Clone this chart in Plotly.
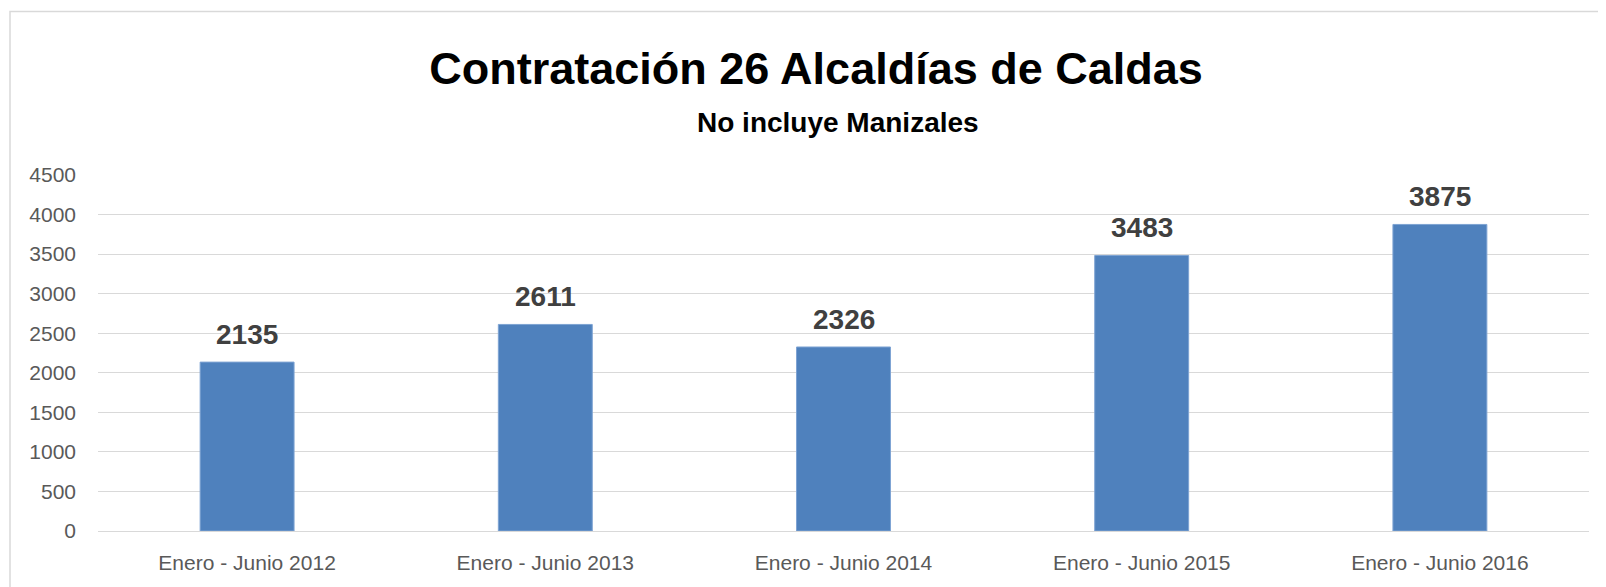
import plotly.graph_objects as go

categories = ["Enero - Junio 2012", "Enero - Junio 2013", "Enero - Junio 2014",
              "Enero - Junio 2015", "Enero - Junio 2016"]
values = [2135, 2611, 2326, 3483, 3875]
y_ticks = [0, 500, 1000, 1500, 2000, 2500, 3000, 3500, 4000, 4500]

OFF = 8  # page body margin
W, H = 1606 - OFF, 587 - OFF
L, T = 98 - OFF, 175 - OFF
R = W - (1589 - OFF)
B = H - (531 - OFF)
pw, ph = W - L - R, H - T - B

FONT = "Liberation Sans, Arial, sans-serif"

fig = go.Figure()
fig.add_trace(go.Bar(
    x=categories, y=values, width=0.315,
    marker=dict(color="#4F81BD", line=dict(color="#7EA3D3", width=1)),
    hoverinfo="x+y",
))

for c, v in zip(categories, values):
    fig.add_annotation(x=c, y=v, text="<b>%d</b>" % v, showarrow=False,
                       yanchor="bottom", yshift=10,
                       font=dict(family=FONT, size=28, color="#404040"),
                       xref="x", yref="y")

fig.add_annotation(text="<b>No incluye Manizales</b>", xref="paper", yref="paper",
                   x=(838 - OFF - L) / pw, y=1 + (T - (122 - OFF)) / ph,
                   xanchor="center", yanchor="middle",
                   showarrow=False, font=dict(family=FONT, size=28, color="#000000"))

fig.add_shape(type="rect", xref="paper", yref="paper",
              x0=(10 - OFF - L) / pw, x1=(1620 - OFF - L) / pw,
              y0=-0.5, y1=1 + (T - (11.5 - OFF)) / ph,
              line=dict(color="#D9D9D9", width=1.5), fillcolor="rgba(0,0,0,0)", layer="below")

fig.update_layout(
    width=W, height=H,
    margin=dict(l=L, r=R, t=T, b=B, autoexpand=False),
    paper_bgcolor="white", plot_bgcolor="white",
    title=dict(text="<b>Contratación 26 Alcaldías de Caldas</b>",
               x=(816 - OFF) / W, xanchor="center", xref="container",
               y=1 - (68 - OFF) / H, yanchor="middle", yref="container",
               font=dict(family=FONT, size=45, color="#000000")),
    showlegend=False,
)
fig.update_yaxes(range=[0, 4500], tickvals=y_ticks, showgrid=True, gridcolor="#D9D9D9",
                 gridwidth=1, zeroline=True, zerolinecolor="#D9D9D9", zerolinewidth=1,
                 tickfont=dict(family=FONT, size=21, color="#595959"),
                 ticklabelstandoff=21, showline=False)
fig.update_xaxes(tickfont=dict(family=FONT, size=21, color="#595959"),
                 ticklabelstandoff=17, showline=False, showgrid=False)

fig.write_html("out.html")
